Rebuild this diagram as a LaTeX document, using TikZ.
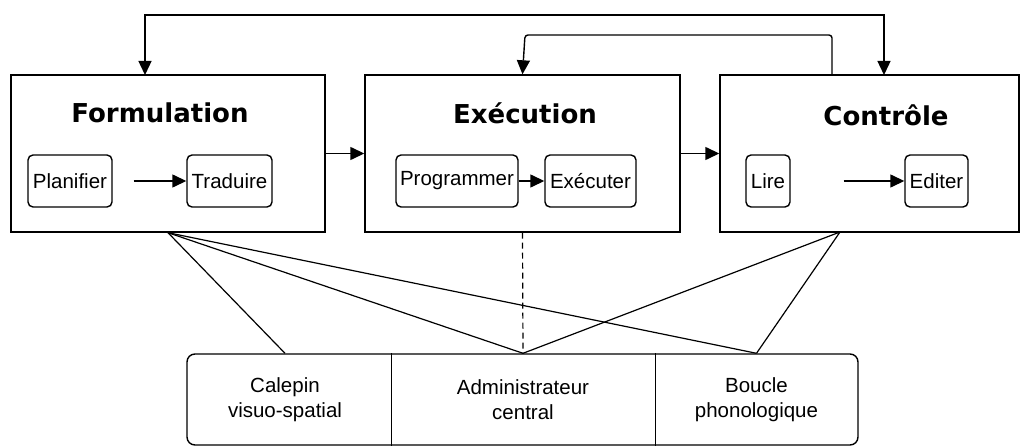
\documentclass[tikz,border=0pt]{standalone}
\usepackage{fontspec}
\setmainfont{Liberation Sans}
\newfontfamily\titlefont{DejaVu Sans}
\usetikzlibrary{arrows.meta,calc}

\begin{document}
\begin{tikzpicture}[x=1pt,y=-1pt,line width=1.4pt,
	phase/.style={rectangle,draw,inner sep=0pt},
	title/.style={font=\titlefont\bfseries\fontsize{26}{30}\selectfont},
	sub/.style={rectangle,draw,rounded corners=5pt,inner sep=0pt,minimum height=52pt,font=\fontsize{20.5}{24}\selectfont},
	cell/.style={rectangle,inner sep=0pt,minimum height=91pt,align=center,font=\fontsize{20.5}{25}\selectfont},
	arr/.style={-{Triangle[length=14pt,width=13pt]}}]
\useasboundingbox (0,0) rectangle (1023,446);

% the three phases
\node[phase,minimum width=314pt,minimum height=157pt] at (168,153.5) (form) {};
\node[phase,minimum width=315pt,minimum height=157pt] at (522.5,153.5) (exec) {};
\node[phase,minimum width=299pt,minimum height=157pt] at (869.5,153.5) (ctrl) {};

\node[title] at (160,113) (formT) {Formulation};
\node[title] at (525,113) (execT) {Exécution};
\node[title] at (886,115) (ctrlT) {Contrôle};

% sub-processes
\node[sub,minimum width=84pt] at (70,181) (plan) {Planifier};
\node[sub,minimum width=85pt] at (229.5,181) (trad) {Traduire};
\node[sub,minimum width=122pt] at (457,181) (prog) {Programmer};
\node[sub,minimum width=91pt] at (590.5,181) (exe) {Exécuter};
\node[sub,minimum width=44pt] at (768,181) (lire) {Lire};
\node[sub,minimum width=63pt] at (936.5,181) (edit) {Editer};

\draw[arr,shorten <=21pt] (plan) -- (trad);
\draw[arr] (prog) -- (exe);
\draw[arr,shorten <=53pt] (lire) -- (edit);
\draw[arr] (form) -- (exec);
\draw[arr] (exec) -- (ctrl);

% feedback loops
\coordinate (fb1) at (145,75);
\coordinate (fb2) at (884,75);
\coordinate (fb3) at (832,75);
\draw[arr,rounded corners=3pt] (fb3) |- (525,35) -- (exec.north);
\draw[{Triangle[length=14pt,width=13pt]}-{Triangle[length=14pt,width=13pt]}] (fb1) |- (514,15) -| (fb2);

% working memory
\node[rectangle,draw,rounded corners=8pt,minimum width=671pt,minimum height=91pt,inner sep=0pt] at (522.5,399.5) (wm) {};
\node[cell,minimum width=204pt] at (285,399.5) (calepin) {Calepin\\visuo-spatial};
\node[cell,minimum width=264pt] at (523,399.5) (admin) {Administrateur\\central};
\node[cell,minimum width=203pt] at (756.5,399.5) (boucle) {Boucle\\phonologique};
\draw ($(calepin.north east)+(4,0)$) -- ($(calepin.south east)+(4,0)$);
\draw (admin.north east) -- (admin.south east);

\coordinate (ctrlB) at (840,232);
\foreach \m in {calepin,admin,boucle}
	\draw[line width=1.2pt] (form.south) -- (\m.north);
\draw[line width=1.2pt] (ctrlB) -- (admin.north);
\draw[line width=1.2pt] (ctrlB) -- (boucle.north);
\draw[dash pattern=on 6pt off 4pt,line width=1.2pt] (exec.south) -- (admin.north);
\end{tikzpicture}
\end{document}
